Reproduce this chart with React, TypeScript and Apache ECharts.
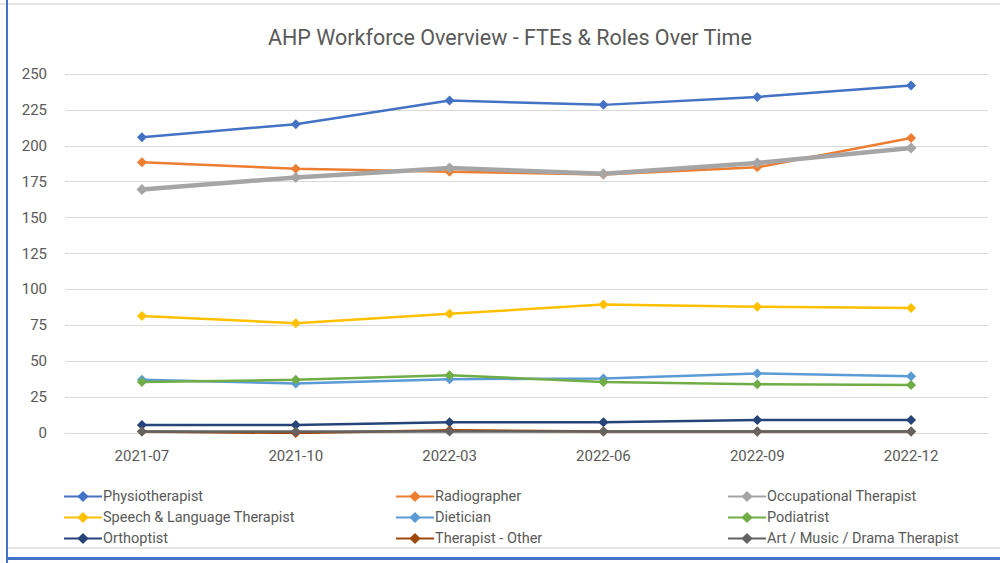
import React, { useEffect, useRef } from "react";
import * as echarts from "echarts";

const categories = ["2021-07", "2021-10", "2022-03", "2022-06", "2022-09", "2022-12"];
const physiotherapist = [206, 215, 231.5, 228.5, 234, 242];
const radiographer = [188.5, 184, 182, 180, 185, 205.5];
const occupationalTherapist = [169.5, 178, 184.5, 180.5, 188, 198.5];
const speechLanguage = [81.5, 76.5, 83, 89.5, 88, 87];
const dietician = [37, 34.5, 37.5, 38, 41.5, 39.5];
const podiatrist = [35.5, 37, 40.3, 35.5, 34, 33.5];
const orthoptist = [5.5, 5.5, 7.5, 7.5, 9, 9];
const therapistOther = [1, 0, 2, 1, 1, 1];
const artMusicDrama = [1, 1, 1, 1, 1, 1];

const seriesDefs = [
  { name: "Physiotherapist", data: physiotherapist, color: "#4472C4", w: 2.5 },
  { name: "Radiographer", data: radiographer, color: "#ED7D31", w: 2.5 },
  { name: "Occupational Therapist", data: occupationalTherapist, color: "#A5A5A5", w: 4.5 },
  { name: "Speech & Language Therapist", data: speechLanguage, color: "#FFC000", w: 2.5 },
  { name: "Dietician", data: dietician, color: "#5B9BD5", w: 2.5 },
  { name: "Podiatrist", data: podiatrist, color: "#70AD47", w: 2.5 },
  { name: "Orthoptist", data: orthoptist, color: "#264478", w: 2.5 },
  { name: "Therapist - Other", data: therapistOther, color: "#9E480E", w: 2.5 },
  { name: "Art / Music / Drama Therapist", data: artMusicDrama, color: "#636363", w: 2.5 },
];

const FONT = "'Roboto', sans-serif";

export default function App() {
  const ref = useRef<HTMLDivElement>(null);
  useEffect(() => {
    document.body.style.margin = "0";
    const chart = echarts.init(ref.current!, null, { renderer: "svg" });
    const legendCols = [0, 1, 2].map((c) => ({
      orient: "vertical",
      left: [58, 390, 722][c],
      top: 484,
      itemWidth: 38,
      itemHeight: 14,
      itemGap: 6,
      textStyle: { fontFamily: FONT, fontSize: 14.5, color: "#595959", padding: [0, 0, 0, -4] },
      data: [seriesDefs[c].name, seriesDefs[c + 3].name, seriesDefs[c + 6].name],
    }));
    chart.setOption({
      animation: false,
      backgroundColor: "#ffffff",
      title: {
        text: "AHP Workforce Overview - FTEs & Roles Over Time",
        left: 263,
        top: 21,
        textStyle: { fontFamily: FONT, fontSize: 21.5, fontWeight: "normal", color: "#595959" },
      },
      legend: legendCols,
      grid: { left: 65, right: 12, top: 74, bottom: 130, containLabel: false },
      xAxis: {
        type: "category",
        data: categories,
        boundaryGap: true,
        axisLine: { show: true, lineStyle: { color: "#D9D9D9", width: 1 } },
        axisTick: { show: false },
        axisLabel: { fontFamily: FONT, fontSize: 15, color: "#595959", margin: 15 },
      },
      yAxis: {
        type: "value",
        min: 0,
        max: 250,
        interval: 25,
        axisLine: { show: false },
        axisTick: { show: false },
        splitLine: { lineStyle: { color: "#D9D9D9", width: 1 } },
        axisLabel: { fontFamily: FONT, fontSize: 15, color: "#595959", margin: 18 },
      },
      series: seriesDefs.map((s) => ({
        name: s.name,
        type: "line",
        data: s.data,
        symbol: "diamond",
        symbolSize: s.w > 3 ? 11 : 10,
        lineStyle: { color: s.color, width: s.w },
        itemStyle: { color: s.color },
        emphasis: { disabled: true },
      })),
      graphic: [
        { type: "rect", shape: { x: 0, y: 3, width: 1000, height: 2 }, style: { fill: "#E6E6E6" } },
        { type: "rect", shape: { x: 8, y: 547, width: 992, height: 2 }, style: { fill: "#E6E6E6" } },
        { type: "rect", shape: { x: 6, y: 0, width: 2, height: 563 }, style: { fill: "#4472C4" } },
        { type: "rect", shape: { x: 6, y: 557, width: 994, height: 3 }, style: { fill: "#4472C4" } },
      ],
    });
    return () => chart.dispose();
  }, []);
  return (
    <div
      ref={ref}
      style={{ position: "fixed", left: 0, top: 0, width: 1000, height: 563 }}
    />
  );
}
